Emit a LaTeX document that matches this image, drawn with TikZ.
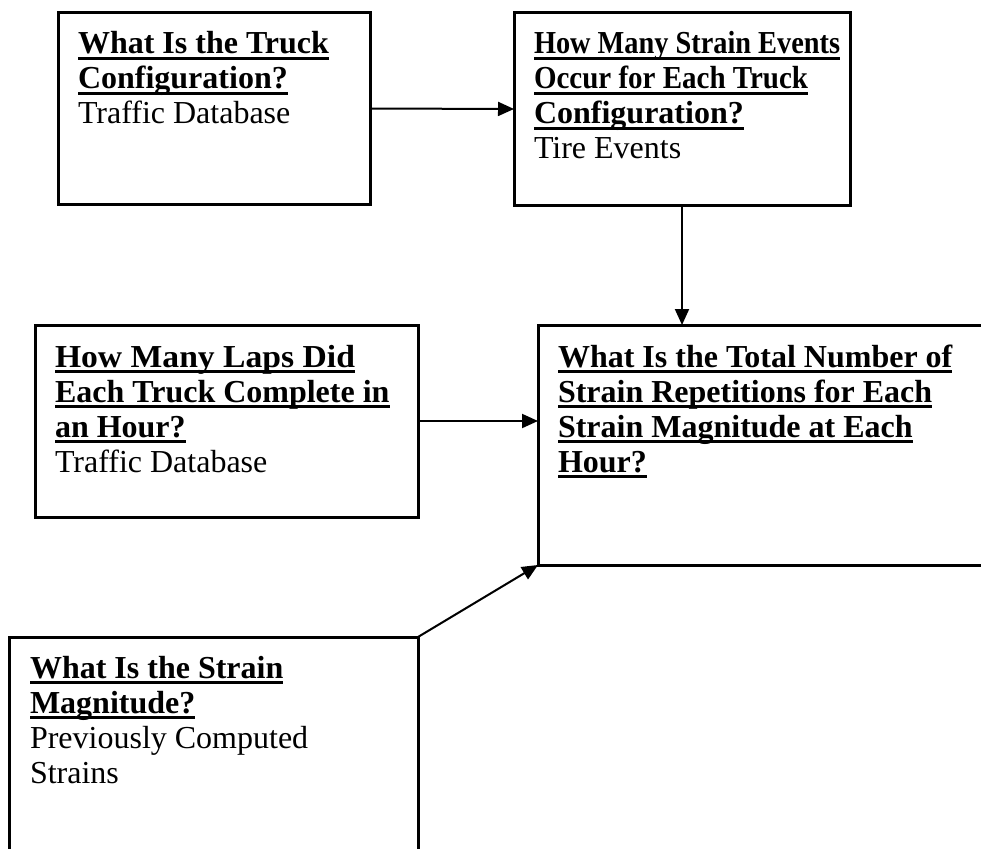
\documentclass[tikz,border=0pt]{standalone}
\usepackage{fontspec}
\setmainfont{Liberation Serif}
\usetikzlibrary{arrows.meta}
% underline one line of text with a thick rule, Word style
\newcommand\ulline[1]{\leavevmode\setbox0\hbox{#1}\rlap{\rule[-6pt]{\wd0}{3pt}}\box0}
% same, with the line squeezed or stretched to a given width
\newcommand\ullinew[2]{\ulline{\resizebox{#1}{\height}{#2}}}
\newcommand\boxtext[1]{\parbox[t]{440pt}{#1}}
\begin{document}
\begin{tikzpicture}[x=1pt,y=-1pt,
  box/.style={draw, line width=3pt, rectangle, inner sep=0pt, outer sep=0pt, anchor=north west},
  txt/.style={anchor=base west, inner sep=0pt, outer sep=0pt, font=\fontsize{32}{35}\selectfont},
  link/.style={line width=2pt, -{Triangle[length=16pt,width=14pt]}}]
\useasboundingbox (0,0) rectangle (981,848);
\clip (0,0) rectangle (981,848);

% boxes
\node[box, minimum width=312pt, minimum height=191pt] (b1) at (58,13) {};
\node[box, minimum width=336pt, minimum height=192pt] (b2) at (514,13) {};
\node[box, minimum width=500pt, minimum height=240pt] (b3) at (538,325) {};
\node[box, minimum width=383pt, minimum height=192pt] (b4) at (35,325) {};
\node[box, minimum width=409pt, minimum height=300pt] (b5) at (9,637) {};

% texts
\node[txt] (t1) at (78,54) {\boxtext{\bfseries\ulline{What Is the Truck}\\
  \ulline{Configuration?}\\
  \normalfont Traffic Database}};
\node[txt] (t2) at (534,54) {\boxtext{\bfseries\ullinew{306pt}{How Many Strain Events}\\
  \ullinew{274pt}{Occur for Each Truck}\\
  \ulline{Configuration?}\\
  \normalfont Tire Events}};
\node[txt] (t3) at (558,367) {\boxtext{\bfseries\ulline{What Is the Total Number of}\\
  \ulline{Strain Repetitions for Each}\\
  \ulline{Strain Magnitude at Each}\\
  \ulline{Hour?}}};
\node[txt] (t4) at (55,367) {\boxtext{\bfseries\ullinew{300pt}{How Many Laps Did}\\
  \ulline{Each Truck Complete in}\\
  \ulline{an Hour?}\\
  \normalfont Traffic Database}};
\node[txt] (t5) at (30,678) {\boxtext{\bfseries\ulline{What Is the Strain}\\
  \ulline{Magnitude?}\\
  \normalfont Previously Computed\\
  Strains}};

% connectors
\draw[link] (b1.east) -- (b2.west);
\draw[link] (b2.south) -- (b2.south |- b3.north);
\draw[link] (b4.east) -- (b4.east -| b3.west);
\draw[link] (b5.north east) -- (b3.south west);
\end{tikzpicture}
\end{document}
